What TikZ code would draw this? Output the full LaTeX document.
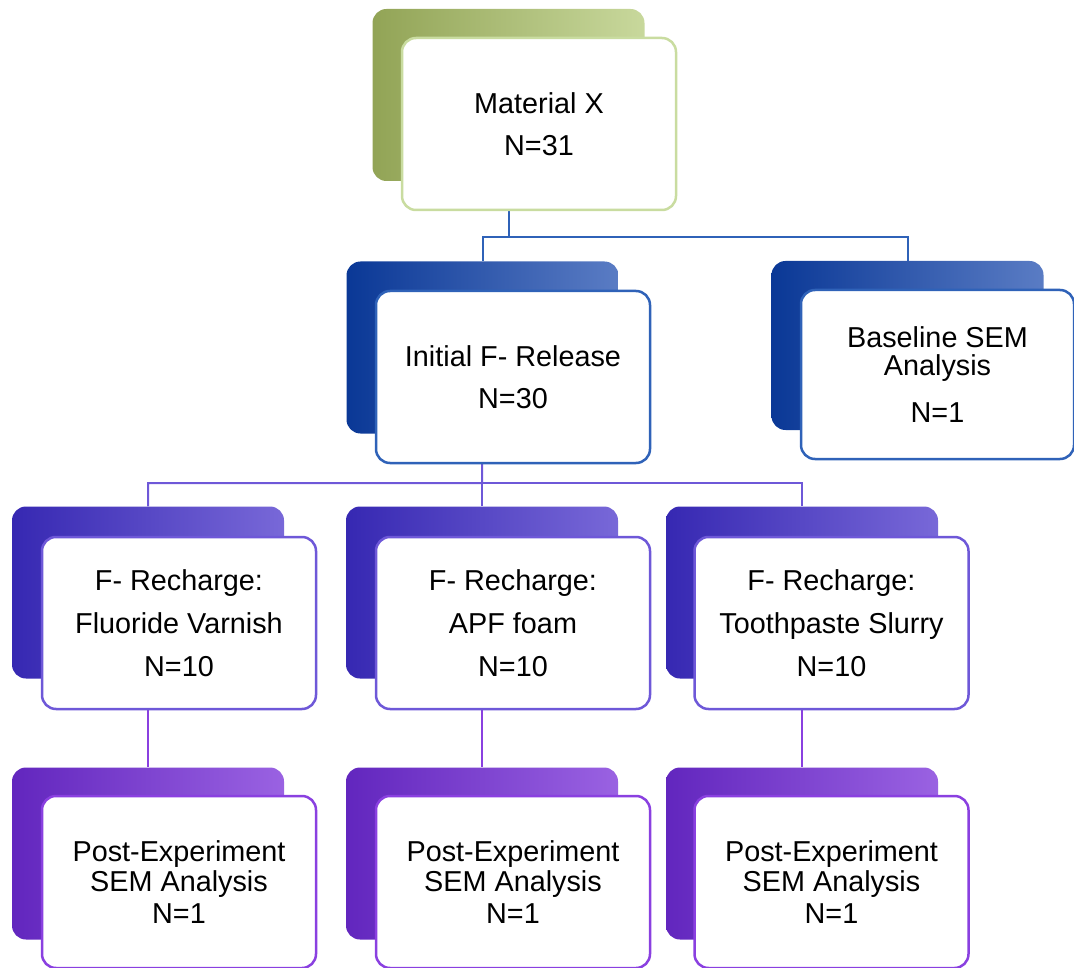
\documentclass[tikz,border=0pt]{standalone}
\usepackage{fontspec}
\setmainfont{Liberation Sans}
\pgfdeclarelayer{bg}
\pgfsetlayers{bg,main}
\definecolor{gDark}{HTML}{92A456}
\definecolor{gMid}{HTML}{A3B468}
\definecolor{gLight}{HTML}{C8D89C}
\definecolor{gEdge}{HTML}{C9DCA0}
\definecolor{bDark}{HTML}{0A3896}
\definecolor{bMid}{HTML}{0C42A4}
\definecolor{bLight}{HTML}{5A7CC4}
\definecolor{bEdge}{HTML}{2F62B8}
\definecolor{iDark}{HTML}{3628B2}
\definecolor{iMid}{HTML}{4132C4}
\definecolor{iLight}{HTML}{7868D8}
\definecolor{iEdge}{HTML}{6E58D8}
\definecolor{pDark}{HTML}{6226BE}
\definecolor{pMid}{HTML}{7430D4}
\definecolor{pLight}{HTML}{9A62E2}
\definecolor{pEdge}{HTML}{8A40E0}
\begin{document}
\begin{tikzpicture}[x=1pt,y=-1pt,
  back/.style={rounded corners=14pt, minimum width=272pt, minimum height=172pt, inner sep=0pt},
  gback/.style={back, left color=gDark, middle color=gMid, right color=gLight},
  bback/.style={back, left color=bDark, middle color=bMid, right color=bLight},
  iback/.style={back, left color=iDark, middle color=iMid, right color=iLight},
  pback/.style={back, left color=pDark, middle color=pMid, right color=pLight},
  front/.style={draw, fill=white, line width=2.5pt, rounded corners=14pt, minimum width=274pt, minimum height=172pt, inner sep=0pt, align=center, font=\fontsize{28.8}{30}\selectfont},
  conn/.style={line width=2pt}
]
\useasboundingbox (0,0) rectangle (1074,968);

% level 1
\node[gback] (b0) at (508.5,95) {};
\node[front, draw=gEdge] (f0) at (539,124) {Material X\\[12pt]N=31};

% level 2
\node[bback] (b1) at (482.5,347.5) {};
\node[front, draw=bEdge] (f1) at (513,377) {Initial F- Release\\[12pt]N=30};
\node[bback, minimum height=169pt] (b2) at (907.5,345.5) {};
\node[front, draw=bEdge, minimum height=169pt, minimum width=273pt] (f2) at (937.5,374.5) {Baseline SEM\\[-2pt]Analysis\\[17pt]N=1};

% level 3
\node[iback] (b3) at (148,592.5) {};
\node[front, draw=iEdge] (f3) at (179,623) {F- Recharge:\\[13pt]Fluoride Varnish\\[13pt]N=10};
\node[iback] (b4) at (482,592.5) {};
\node[front, draw=iEdge] (f4) at (513,623) {F- Recharge:\\[13pt]APF foam\\[13pt]N=10};
\node[iback] (b5) at (802,592.5) {};
\node[front, draw=iEdge] (f5) at (831.5,623) {F- Recharge:\\[13pt]Toothpaste Slurry\\[13pt]N=10};

% level 4
\node[pback] (b6) at (148,853.5) {};
\node[front, draw=pEdge] (f6) at (179,882) {Post-Experiment\\SEM Analysis\\[2pt]N=1};
\node[pback] (b7) at (482,853.5) {};
\node[front, draw=pEdge] (f7) at (513,882) {Post-Experiment\\SEM Analysis\\[2pt]N=1};
\node[pback] (b8) at (802,853.5) {};
\node[front, draw=pEdge] (f8) at (831.5,882) {Post-Experiment\\SEM Analysis\\[2pt]N=1};

\begin{pgfonlayer}{bg}
  \coordinate (j1) at (508.5,237);
  \coordinate (j2) at (482,483);
  \draw[conn, draw=bEdge] (b0.south) -- (j1) -| (b1.north);
  \draw[conn, draw=bEdge] (j1) -| (b2.north);
  \draw[conn, draw=iEdge] (b1.south) -- (j2) -| (b3.north);
  \draw[conn, draw=iEdge] (j2) -- (b4.north);
  \draw[conn, draw=iEdge] (j2) -| (b5.north);
  \draw[conn, draw=pEdge] (b3.south) -- (b6.north);
  \draw[conn, draw=pEdge] (b4.south) -- (b7.north);
  \draw[conn, draw=pEdge] (b5.south) -- (b8.north);
\end{pgfonlayer}
\end{tikzpicture}
\end{document}
